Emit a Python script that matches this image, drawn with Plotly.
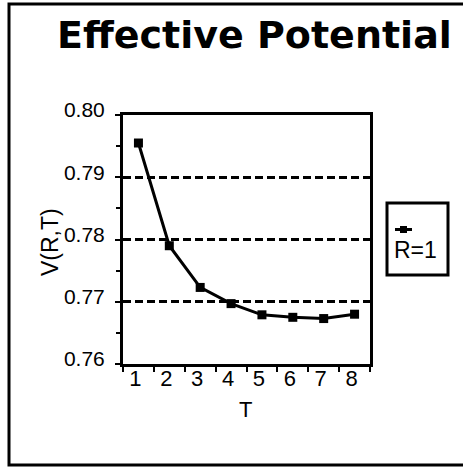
import plotly.graph_objects as go

# Effective potential V(R,T) at R=1 for T = 1..8
T = ["1", "2", "3", "4", "5", "6", "7", "8"]
V = [0.7955, 0.7790, 0.7723, 0.7697, 0.7679, 0.7675, 0.7673, 0.7680]
series_name = "R=1"
chart_title = "Effective Potential"
y_label = "V(R,T)"
x_label = "T"

W, H = 463, 467
ML, MR, MT, MB = 123, 93, 115, 103
PW, PH = W - ML - MR, H - MT - MB


def fx(p):
    """pixel x -> paper x"""
    return (p - ML) / PW


def fy(p):
    """pixel y -> paper y"""
    return (H - MB - p) / PH


FONT = "Liberation Sans, Arial, sans-serif"

fig = go.Figure()
fig.add_trace(go.Scatter(
    x=T, y=V, mode="lines+markers", name=series_name,
    line=dict(color="black", width=3),
    marker=dict(symbol="square", size=9, color="black"),
    showlegend=False,
))

shapes = [
    # outer frame
    dict(type="rect", xref="paper", yref="paper",
         x0=fx(9), x1=fx(475), y0=fy(465), y1=fy(4),
         line=dict(color="black", width=3), fillcolor="rgba(0,0,0,0)", layer="below"),
    # legend box
    dict(type="rect", xref="paper", yref="paper",
         x0=fx(387), x1=fx(448), y0=fy(275), y1=fy(203),
         line=dict(color="black", width=3), fillcolor="white"),
    # legend sample line and marker
    dict(type="line", xref="paper", yref="paper",
         x0=fx(395), x1=fx(412), y0=fy(229.5), y1=fy(229.5),
         line=dict(color="black", width=3)),
    dict(type="rect", xref="paper", yref="paper",
         x0=fx(400), x1=fx(407), y0=fy(233), y1=fy(226),
         line=dict(color="black", width=0), fillcolor="black"),
]

annotations = [
    dict(text="<b>" + chart_title + "</b>", xref="paper", yref="paper",
         x=fx(254), y=fy(35), xanchor="center", yanchor="middle", showarrow=False,
         font=dict(family="DejaVu Sans, sans-serif", size=38, color="black")),
    dict(text=series_name, xref="paper", yref="paper",
         x=fx(415.5), y=fy(250), xanchor="center", yanchor="middle", showarrow=False,
         font=dict(family=FONT, size=23, color="black")),
    dict(text=y_label, xref="paper", yref="paper", textangle=-90,
         x=fx(50), y=fy(242), xanchor="center", yanchor="middle", showarrow=False,
         font=dict(family=FONT, size=23, color="black")),
    dict(text=x_label, xref="paper", yref="paper",
         x=fx(245), y=fy(409), xanchor="center", yanchor="middle", showarrow=False,
         font=dict(family=FONT, size=22, color="black")),
]

fig.update_layout(
    width=W, height=H,
    margin=dict(l=ML, r=MR, t=MT, b=MB, pad=0),
    paper_bgcolor="white", plot_bgcolor="white",
    font=dict(family=FONT, color="black"),
    shapes=shapes, annotations=annotations,
    xaxis=dict(
        type="category", range=[-0.5, 7.5], tickson="boundaries",
        ticks="outside", ticklen=5, tickwidth=2, tickcolor="black",
        showline=True, linecolor="black", linewidth=3, mirror=True,
        showgrid=False, zeroline=False,
        ticklabelstandoff=-7, ticklabelshift=-3,
        tickfont=dict(size=22, family=FONT, color="black"),
    ),
    yaxis=dict(
        range=[0.76, 0.80], dtick=0.01, tickformat=".2f",
        ticks="outside", ticklen=5, tickwidth=2, tickcolor="black",
        minor=dict(dtick=0.005, ticks="outside", ticklen=4, tickwidth=2, tickcolor="black"),
        showline=True, linecolor="black", linewidth=3, mirror=True,
        showgrid=True, gridcolor="black", gridwidth=2.5, griddash="8px,4px",
        zeroline=False, ticklabelstandoff=6, ticklabelshift=-5,
        tickfont=dict(size=21, family=FONT, color="black"),
    ),
)

fig.write_html("out.html")
